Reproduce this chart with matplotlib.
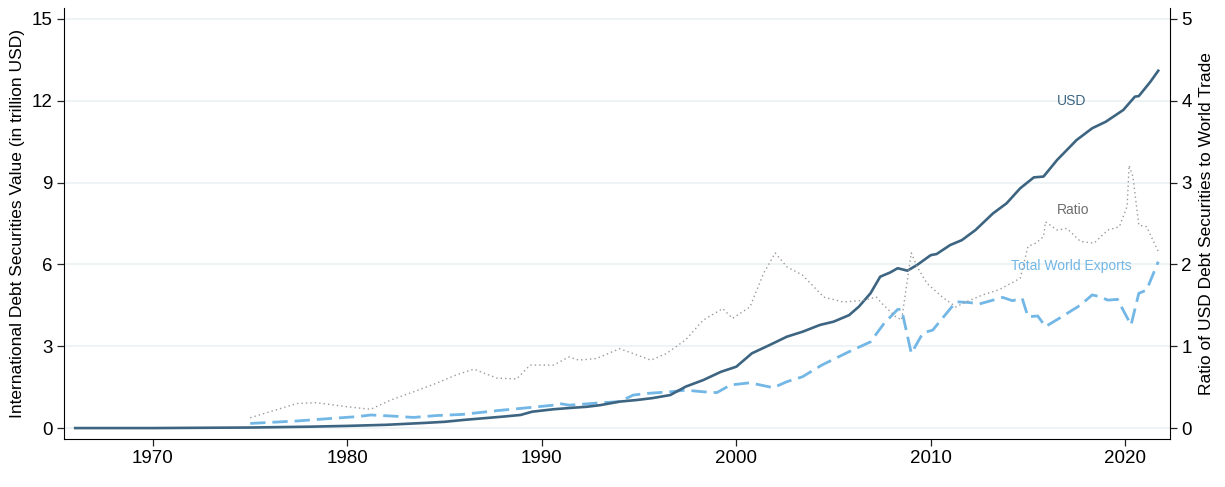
import matplotlib
matplotlib.use("Agg")
from matplotlib import pyplot as plt

plt.rcParams['font.family'] = ['Liberation Sans', 'DejaVu Sans']

# USD international debt securities, trillion USD (left axis)
usd_years = [1966, 1970, 1975, 1978, 1980, 1982, 1984, 1985, 1986, 1987, 1988, 1988.9,
             1989.5, 1990.6, 1991.5, 1992.3, 1993, 1994, 1994.9, 1995.7, 1996.6, 1997.4,
             1998.3, 1999.2, 2000, 2000.8, 2001.7, 2002.6, 2003.4, 2004.3, 2005.0, 2005.8,
             2006.3, 2006.9, 2007.4, 2007.9, 2008.3, 2008.8, 2009.3, 2010, 2010.3, 2011,
             2011.6, 2012.3, 2013.2, 2013.9, 2014.6, 2015.3, 2015.8, 2016.5, 2017.5, 2018.3,
             2019.0, 2019.9, 2020.5, 2020.7, 2021.3, 2021.7]
usd_vals = [0.0, 0.0, 0.02, 0.05, 0.08, 0.12, 0.19, 0.23, 0.3, 0.36, 0.42, 0.48,
            0.6, 0.69, 0.74, 0.78, 0.84, 0.97, 1.03, 1.1, 1.21, 1.52,
            1.76, 2.06, 2.25, 2.74, 3.04, 3.35, 3.53, 3.78, 3.9, 4.14,
            4.45, 4.94, 5.55, 5.7, 5.86, 5.77, 5.98, 6.34, 6.38, 6.71,
            6.89, 7.26, 7.87, 8.24, 8.79, 9.19, 9.22, 9.83, 10.56, 10.99,
            11.23, 11.66, 12.15, 12.17, 12.7, 13.1]

# total world exports, trillion USD (left axis)
exp_years = [1975.0, 1977.4, 1979.1, 1980.5, 1981.2, 1982.3, 1983.4, 1984.6, 1985.9, 1987.7,
             1988.9, 1990.6, 1990.9, 1991.4, 1993.1, 1994.0, 1994.7, 1995.4, 1996.6, 1997.4,
             1998.3, 1999.0, 1999.7, 2000.7, 2001.9, 2002.6, 2003.4, 2004.4, 2005.8, 2006.9,
             2007.6, 2008.3, 2008.5, 2009.0, 2009.6, 2010.1, 2010.8, 2011.3, 2012.0, 2012.5,
             2013.7, 2014.2, 2014.7, 2015.0, 2015.5, 2015.9, 2016.6, 2017.7, 2018.3, 2018.7,
             2019.1, 2019.6, 2020.3, 2020.7, 2021.1, 2021.7]
exp_vals = [0.17, 0.26, 0.35, 0.42, 0.48, 0.44, 0.39, 0.46, 0.5, 0.64,
            0.72, 0.84, 0.9, 0.84, 0.93, 0.97, 1.21, 1.27, 1.33, 1.39,
            1.33, 1.3, 1.58, 1.66, 1.48, 1.7, 1.88, 2.31, 2.8, 3.16,
            3.84, 4.35, 4.35, 2.74, 3.49, 3.59, 4.2, 4.63, 4.6, 4.55,
            4.79, 4.67, 4.76, 4.08, 4.11, 3.72, 4.02, 4.51, 4.88, 4.82,
            4.69, 4.72, 3.78, 4.94, 5.06, 6.1]

# ratio USD debt securities / world trade (right axis)
ratio_years = [1975.0, 1977.4, 1978.4, 1980, 1981.2, 1982.2, 1983.6, 1984.6, 1985.6, 1986.5,
               1987.7, 1988.7, 1989.4, 1990.6, 1991.4, 1991.9, 1992.8, 1994.0, 1994.7, 1995.6,
               1996.4, 1997.4, 1998.3, 1999.3, 1999.8, 2000.7, 2001.4, 2002.0, 2002.6, 2003.4,
               2004.5, 2005.5, 2006.5, 2007.2, 2007.5, 2008.2, 2008.5, 2008.7, 2009.0, 2009.3,
               2009.8, 2010.6, 2011.3, 2011.8, 2012.7, 2013.5, 2014.6, 2015.0, 2015.4, 2015.8,
               2015.9, 2016.5, 2017.0, 2017.7, 2018.4, 2019.1, 2019.7, 2020.1, 2020.2, 2020.4,
               2020.7, 2021.1, 2021.7]
ratio_vals = [0.126, 0.30, 0.31, 0.26, 0.23, 0.34, 0.46, 0.55, 0.65, 0.72,
              0.61, 0.6, 0.77, 0.77, 0.87, 0.83, 0.85, 0.97, 0.91, 0.83,
              0.91, 1.08, 1.32, 1.46, 1.34, 1.48, 1.89, 2.14, 1.97, 1.87,
              1.6, 1.54, 1.56, 1.6, 1.52, 1.36, 1.32, 1.65, 2.14, 1.97,
              1.77, 1.6, 1.48, 1.54, 1.63, 1.69, 1.83, 2.22, 2.26, 2.34,
              2.52, 2.42, 2.44, 2.28, 2.26, 2.42, 2.46, 2.71, 3.21, 3.07,
              2.48, 2.46, 2.16]

left_ticks = [0, 3, 6, 9, 12, 15]
right_ticks = [0, 1, 2, 3, 4, 5]
x_ticks = [1970, 1980, 1990, 2000, 2010, 2020]

c_usd = '#3d6581'
c_exp = '#72b7e6'
c_ratio = '#9a9a9a'

fig = plt.figure(figsize=(12.25, 4.87), dpi=100)
ax = fig.add_axes([0.0522, 0.0986, 0.9030, 0.885])
ax2 = ax.twinx()

for t in left_ticks:
    ax.axhline(t, color='#e9f1f3', lw=1.1, zorder=0)

ax.plot(usd_years, usd_vals, color=c_usd, lw=1.9, zorder=3)
ax.plot(exp_years, exp_vals, color=c_exp, lw=2.0, dashes=(5.5, 2.5), zorder=2)
ax2.plot(ratio_years, ratio_vals, color=c_ratio, lw=1.0, linestyle=(0, (1, 2.2)))

ax.set_xlim(1965.42, 2022.31)
ax.set_ylim(-0.4, 15.4)
ax2.set_ylim(-0.4 / 3, 15.4 / 3)
ax.set_xticks(x_ticks)
ax.set_yticks(left_ticks)
ax2.set_yticks(right_ticks)

for a in (ax, ax2):
    a.spines['top'].set_visible(False)
    a.tick_params(labelsize=13.5, length=5, width=0.9, color='#222222', pad=3)
ax.spines['right'].set_visible(False)
ax2.spines['left'].set_visible(False)
ax2.spines['bottom'].set_visible(False)

ax.set_ylabel('International Debt Securities Value (in trillion USD)', fontsize=12.5, labelpad=5)
ax2.set_ylabel('Ratio of USD Debt Securities to World Trade', fontsize=12.5, labelpad=5)

ax.text(2017.25, 12.0, 'USD', color=c_usd, fontsize=10, ha='center', va='center')
ax.text(2017.3, 8.0, 'Ratio', color='#6e6e6e', fontsize=10, ha='center', va='center')
ax.text(2017.25, 5.95, 'Total World Exports', color=c_exp, fontsize=10, ha='center', va='center')

fig.savefig('out.png', dpi=100)
